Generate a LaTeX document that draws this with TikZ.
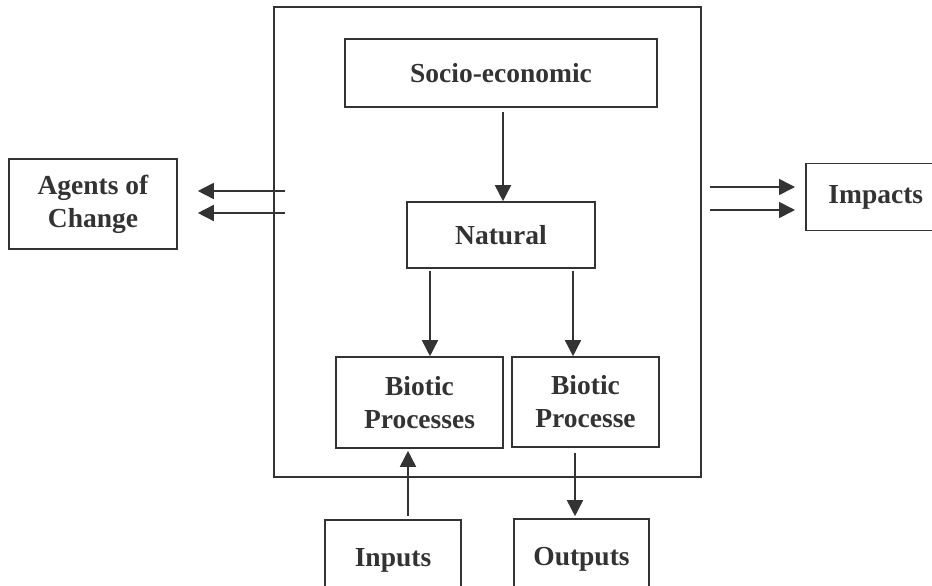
\documentclass[tikz,border=0pt]{standalone}
\usepackage{fontspec}
\setmainfont{Liberation Serif}
\usetikzlibrary{arrows.meta}
\definecolor{ink}{HTML}{333333}
\tikzset{
  box/.style={draw=ink, line width=1.6pt, text=ink, font=\fontsize{27.5}{33}\selectfont\bfseries, align=center, inner sep=0pt, rectangle},
  conn/.style={draw=ink, line width=1.6pt, -{Triangle[length=16pt,width=16pt]}}
}
\begin{document}
\begin{tikzpicture}[x=1pt,y=-1pt]
\useasboundingbox[fill=white] (0,0) rectangle (932,586);
% outer frame
\node[box, minimum width=427, minimum height=470, anchor=north west] (frame) at (273,6) {};
\node[box, minimum width=312, minimum height=68] (socio) at (501,73) {Socio-economic};
\node[box, minimum width=188, minimum height=66] (natural) at (501,235) {Natural};
\node[box, minimum width=167, minimum height=91] (bioL) at (419.5,402.5) {Biotic\\Processes};
\node[box, minimum width=147, minimum height=90] (bioR) at (585.5,402) {Biotic\\Processe};
\node[box, minimum width=136, minimum height=80] (inputs) at (393,560) {Inputs};
\node[box, minimum width=135, minimum height=80] (outputs) at (581.5,559) {Outputs};
\node[box, minimum width=168, minimum height=90] (agents) at (93,204) {Agents of\\Change};
\node[box, minimum width=140, minimum height=67, anchor=west] (impacts) at (805,197) {Impacts};
% connectors
\draw[conn] ([yshift=-4pt]socio.south -| 503,0) -- (natural.north -| 503,0);
\draw[conn] ([yshift=-2pt]natural.south -| 430,0) -- (bioL.north -| 430,0);
\draw[conn] ([yshift=-2pt]natural.south -| 573,0) -- (bioR.north -| 573,0);
\draw[conn] ([yshift=3pt]inputs.north -| 408,0) -- ([yshift=-2pt]bioL.south -| 408,0);
\draw[conn] ([yshift=-5pt]bioR.south -| 575,0) -- ([yshift=2pt]outputs.north -| 575,0);
\coordinate (aL1) at (285,191);
\coordinate (aL2) at (285,213);
\draw[conn] (aL1) -- ([xshift=20pt]agents.east |- aL1);
\draw[conn] (aL2) -- ([xshift=20pt]agents.east |- aL2);
\coordinate (aR1) at (710,187);
\coordinate (aR2) at (710,210);
\draw[conn] (aR1) -- ([xshift=-10pt]impacts.west |- aR1);
\draw[conn] (aR2) -- ([xshift=-10pt]impacts.west |- aR2);
\end{tikzpicture}
\end{document}
